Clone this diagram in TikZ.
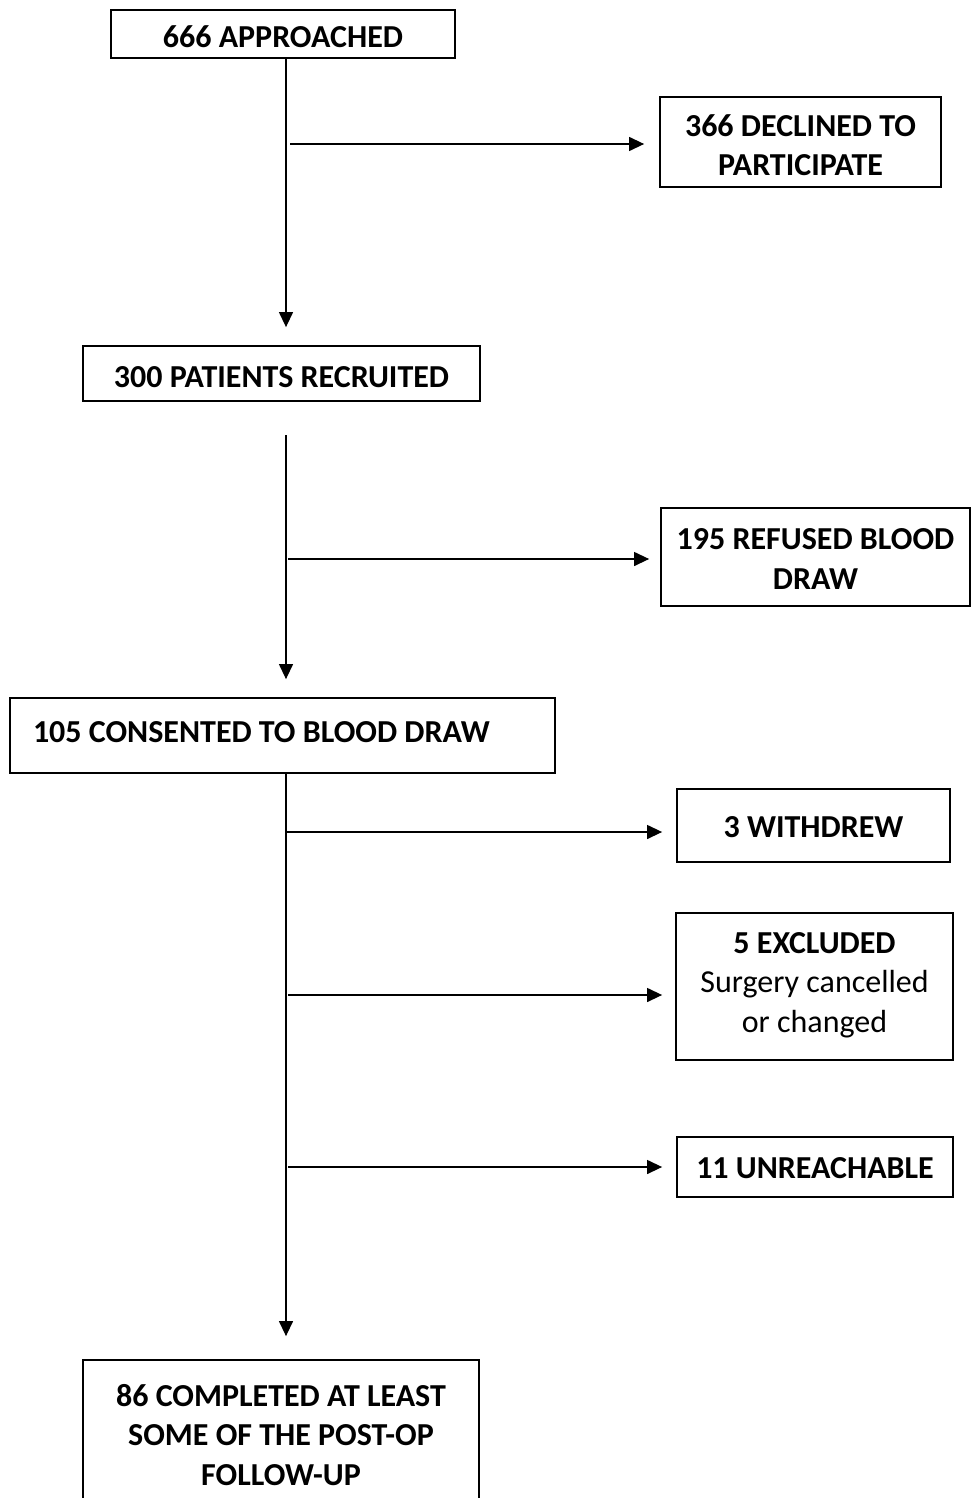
\documentclass[tikz,border=0pt]{standalone}
\usepackage{fontspec}
\setmainfont{Carlito}
\usetikzlibrary{arrows.meta}
\begin{document}
\begin{tikzpicture}[x=1pt,y=-1pt,
  box/.style={draw, line width=1.8pt, inner sep=0pt, align=center,
    font=\fontsize{32}{39.5}\selectfont\bfseries},
  arr/.style={-{Triangle[length=15pt,width=14pt]}, line width=1.3pt}]
\useasboundingbox (0,0) rectangle (972,1498);
\clip (0,0) rectangle (972,1498);

\node[box, minimum width=344pt, text height=38pt, text depth=10pt] (app) at (283,34) {666 APPROACHED};
\node[box, minimum width=281pt, text height=79pt, text depth=11pt] (dec) at (800.5,142) {366 DECLINED TO\\PARTICIPATE};
\node[box, minimum width=397pt, text height=41pt, text depth=14pt] (rec) at (281.5,373.5) {300 PATIENTS RECRUITED};
\node[box, minimum width=309pt, text height=81pt, text depth=17pt] (ref) at (815.5,557) {195 REFUSED BLOOD\\DRAW};
\node[box, align=flush left, text width=499pt, inner xsep=23pt, inner ysep=0pt, text height=44pt, text depth=31pt] (con) at (282.5,735.5) {105 CONSENTED TO BLOOD DRAW};
\node[box, minimum width=273pt, text height=48pt, text depth=25pt] (wd) at (813.5,825.5) {3 WITHDREW};
\node[box, minimum width=277pt, text height=119pt, text depth=28pt] (ex) at (814.5,986.5) {5 EXCLUDED\\\mdseries Surgery cancelled\\\mdseries or changed};
\node[box, minimum width=276pt, text height=41pt, text depth=19pt] (un) at (815,1167) {11 UNREACHABLE};
\node[box, minimum width=396pt, text height=125pt, text depth=30pt] (comp) at (281,1437.5) {86 COMPLETED AT LEAST\\SOME OF THE POST-OP\\FOLLOW-UP};

\coordinate (t2) at (286,435);
\coordinate (h1) at (290,144);
\coordinate (h2) at (288,559);
\coordinate (h3) at (286,832);
\coordinate (h4) at (288,995);
\coordinate (h5) at (288,1167);

\draw[arr, shorten >=18pt] (app.south -| t2) -- (rec.north -| t2);
\draw[arr, shorten >=18pt] (t2) -- (con.north -| t2);
\draw[arr, shorten >=23pt] (con.south -| t2) -- (comp.north -| t2);

\draw[arr, shorten >=15pt] (h1) -- (h1 -| dec.west);
\draw[arr, shorten >=11pt] (h2) -- (h2 -| ref.west);
\draw[arr, shorten >=14pt] (h3) -- (h3 -| wd.west);
\draw[arr, shorten >=13pt] (h4) -- (h4 -| ex.west);
\draw[arr, shorten >=14pt] (h5) -- (h5 -| un.west);
\end{tikzpicture}
\end{document}
